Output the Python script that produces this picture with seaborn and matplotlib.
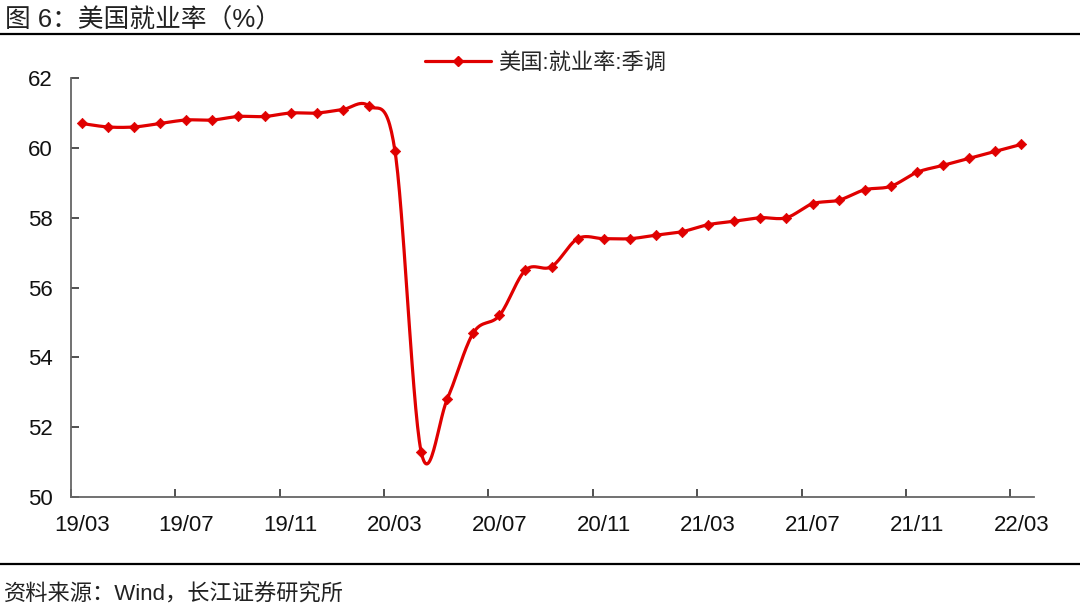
import numpy as np
import pandas as pd
import seaborn as sns
import matplotlib.pyplot as plt
from matplotlib.lines import Line2D

sns.set_theme(style="white")
plt.rcParams['font.family'] = ['Liberation Sans', 'Noto Sans CJK SC']

# Data: US employment-population ratio, seasonally adjusted (%)
months = ['19/03', '19/04', '19/05', '19/06', '19/07', '19/08', '19/09', '19/10', '19/11', '19/12',
          '20/01', '20/02', '20/03', '20/04', '20/05', '20/06', '20/07', '20/08', '20/09', '20/10',
          '20/11', '20/12', '21/01', '21/02', '21/03', '21/04', '21/05', '21/06', '21/07', '21/08',
          '21/09', '21/10', '21/11', '21/12', '22/01', '22/02', '22/03']
rate = [60.7, 60.6, 60.6, 60.7, 60.8, 60.8, 60.9, 60.9, 61.0, 61.0,
        61.1, 61.2, 59.9, 51.3, 52.8, 54.7, 55.2, 56.5, 56.6, 57.4,
        57.4, 57.4, 57.5, 57.6, 57.8, 57.9, 58.0, 58.0, 58.4, 58.5,
        58.8, 58.9, 59.3, 59.5, 59.7, 59.9, 60.1]
tick_labels = ['19/03', '19/07', '19/11', '20/03', '20/07', '20/11', '21/03', '21/07', '21/11', '22/03']
series_name = '美国:就业率:季调'

df = pd.DataFrame({'month': months, 'rate': rate})
df['x'] = np.arange(len(df))

RED = '#E00000'


# smoothed line like Excel (Catmull-Rom as cubic bezier)
def smooth(x, y, n=30):
    p = np.column_stack([x, y]).astype(float)
    p = np.vstack([p[0], p, p[-1]])
    out = []
    t = np.linspace(0, 1, n)[:, None]
    for i in range(1, len(p) - 2):
        p0, p1, p2, p3 = p[i - 1], p[i], p[i + 1], p[i + 2]
        c1 = p1 + (p2 - p0) / 6
        c2 = p2 - (p3 - p1) / 6
        seg = ((1 - t) ** 3) * p1 + 3 * ((1 - t) ** 2) * t * c1 + 3 * (1 - t) * t ** 2 * c2 + t ** 3 * p2
        out.append(seg if i == 1 else seg[1:])
    out = np.vstack(out)
    return out[:, 0], out[:, 1]


sx, sy = smooth(df['x'], df['rate'])

fig = plt.figure(figsize=(10.8, 6.11), dpi=100)
ax = fig.add_axes([0.0657, 0.1866, 0.892, 0.6856])

sns.lineplot(x=sx, y=sy, sort=False, color=RED, linewidth=2.3, ax=ax)
sns.scatterplot(data=df, x='x', y='rate', marker='D', s=28, color=RED,
                edgecolor=RED, linewidth=0.5, ax=ax, zorder=3)

ax.set_xlim(-0.42, 36.5)
ax.set_ylim(50, 62)
ax.set_yticks(np.arange(50, 63, 2))
ax.tick_params(axis='y', labelsize=16, direction='in', length=6, width=1.2,
               color='#333333', labelcolor='#111111', pad=13, left=True)

tick_pos = [months.index(m) for m in tick_labels]
ax.set_xticks([p - 0.42 for p in tick_pos])
ax.set_xticklabels([])
ax.set_xticks(tick_pos, minor=True)
ax.set_xticklabels(tick_labels, minor=True)
ax.tick_params(axis='x', which='major', direction='in', length=6, width=1.2,
               color='#333333', bottom=True)
ax.tick_params(axis='x', which='minor', length=0, labelsize=16,
               labelcolor='#111111', pad=13)

ax.set_xlabel('')
ax.set_ylabel('')
for s in ['top', 'right']:
    ax.spines[s].set_visible(False)
for s in ['left', 'bottom']:
    ax.spines[s].set_color('#666666')
    ax.spines[s].set_linewidth(1.3)
ax.grid(False)

handle = Line2D([], [], color=RED, linewidth=2.3, marker='D', markersize=5)
ax.legend([handle], [series_name], loc='center', bbox_to_anchor=(0.505, 0.897),
          bbox_transform=fig.transFigure, frameon=False, fontsize=16,
          handlelength=3.0, handletextpad=0.3)

fig.text(0.005, 0.967, '图 6：美国就业率（%）', fontsize=18.5, color='#222222',
         va='center', ha='left')
fig.add_artist(Line2D([0.0, 1.0], [0.944, 0.944], color='black', linewidth=1.6,
                      transform=fig.transFigure))
fig.add_artist(Line2D([0.0, 1.0], [0.077, 0.077], color='black', linewidth=1.6,
                      transform=fig.transFigure))
fig.text(0.004, 0.026, '资料来源：Wind，长江证券研究所', fontsize=16, color='#222222',
         va='center', ha='left')

plt.savefig('out.png', dpi=100)
